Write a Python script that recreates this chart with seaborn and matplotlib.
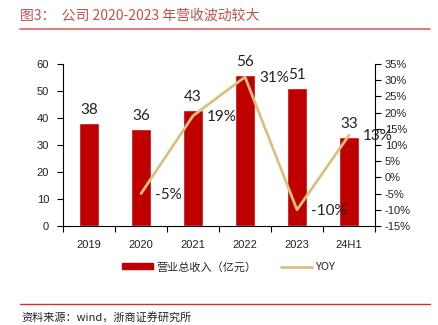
import matplotlib
matplotlib.use("Agg")
import matplotlib.pyplot as plt
import seaborn as sns
import numpy as np
import pandas as pd
from matplotlib.patches import Patch
from matplotlib.lines import Line2D

categories = ["2019", "2020", "2021", "2022", "2023", "24H1"]
revenue = [38, 36, 43, 56, 51, 33]
yoy = [np.nan, -5, 19, 31, -10, 13]
yoy_labels = ["", "-5%", "19%", "31%", "-10%", "13%"]
left_ticks = [0, 10, 20, 30, 40, 50, 60]
right_ticks = [-15, -10, -5, 0, 5, 10, 15, 20, 25, 30, 35]
title = "图3：  公司 2020-2023 年营收波动较大"
source = "资料来源：wind，浙商证券研究所"
bar_label = "营业总收入（亿元）"
line_label = "YOY"

sns.set_theme(style="white")
plt.rcParams["font.family"] = ["Liberation Sans", "Noto Sans CJK SC", "DejaVu Sans"]

bar_color = "#C00000"
line_color = "#DDBF7F"

fig = plt.figure(figsize=(4.39, 3.25), dpi=100)
ax = fig.add_axes([63/439, 1-226/325, (375-63)/439, (226-64)/325])

df = pd.DataFrame({"cat": categories, "rev": revenue, "yoy": yoy, "pos": np.arange(len(categories))})
sns.barplot(data=df, x="cat", y="rev", color=bar_color, saturation=1, width=0.39, ax=ax)
ax.set_xlim(-0.5, len(categories) - 0.5)
ax.set_ylim(0, 60)
ax.set_yticks(left_ticks)
ax.set_xlabel("")
ax.set_ylabel("")
for i, v in enumerate(revenue):
    ax.text(i, v + 2.2, f"{v}", ha="center", va="bottom", fontsize=11,
            family=["Lato", "DejaVu Sans"], color="#222222")

ax2 = ax.twinx()
sns.lineplot(data=df.dropna(), x="pos", y="yoy", color=line_color, lw=2, ax=ax2)
ax2.set_ylim(-15, 35)
ax2.set_yticks(right_ticks)
ax2.set_yticklabels([f"{t}%" for t in right_ticks])
ax2.set_xlabel("")
ax2.set_ylabel("")
ax2.set_xlim(-0.5, len(categories) - 0.5)
for i, (v, lab) in enumerate(zip(yoy, yoy_labels)):
    if lab:
        ax2.text(i + 0.27, v - 0.3, lab, ha="left", va="center", fontsize=11,
                 family=["Lato", "DejaVu Sans"], color="#222222")

for a in (ax, ax2):
    a.spines["top"].set_visible(False)
    a.spines["left"].set_visible(a is ax)
    a.spines["right"].set_visible(a is ax2)
    a.spines["bottom"].set_visible(a is ax)
    for s in a.spines.values():
        s.set_color("#000000")
        s.set_linewidth(0.8)

ax.tick_params(axis="y", which="both", left=True, length=4, width=0.8, color="black",
               labelsize=8, labelcolor="#222222", pad=6)
ax.tick_params(axis="x", bottom=False, labelsize=8, labelcolor="#222222", pad=4)
ax.set_xticks(np.arange(len(categories) + 1) - 0.5, minor=True)
ax.tick_params(axis="x", which="minor", bottom=True, length=4, width=0.8, color="black")
ax2.tick_params(axis="y", right=True, length=4, width=0.8, color="black",
                labelsize=8, labelcolor="#222222", pad=3)
ax2.tick_params(axis="x", bottom=False, labelbottom=False)

handles = [Patch(facecolor=bar_color, edgecolor=bar_color),
           Line2D([0], [0], color=line_color, lw=2)]
fig.legend(handles, [bar_label, line_label], loc="center", bbox_to_anchor=(0.52, 1-267/325),
           ncol=2, frameon=False, handlelength=2.8, handleheight=0.45,
           columnspacing=2.2, handletextpad=0.3,
           prop={"family": ["Noto Sans CJK SC", "DejaVu Sans"], "size": 8})

fig.text(20/439, 1-16/325, title, color="#C0504D", fontsize=10, va="center", ha="left",
         family=["Noto Sans CJK SC", "DejaVu Sans"])
fig.add_artist(Line2D([20/439, 430/439], [1-29/325, 1-29/325], color="#E06060", lw=1.2))
fig.add_artist(Line2D([20/439, 430/439], [1-304/325, 1-304/325], color="#D03030", lw=1.0))
fig.text(21/439, 1-317/325, source, color="#222222", fontsize=8, va="center", ha="left",
         family=["Noto Sans CJK SC", "DejaVu Sans"])

fig.savefig("out.png", dpi=100)
